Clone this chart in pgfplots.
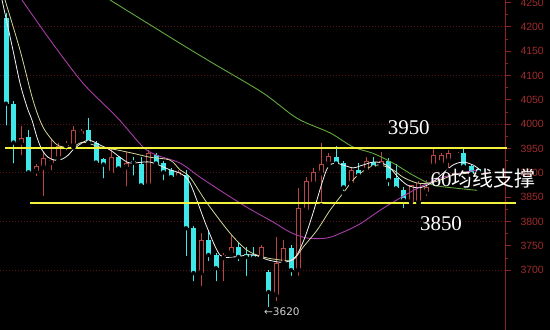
\documentclass[border=0pt]{standalone}
\usepackage{pgfplots}
\pgfplotsset{compat=1.18}
\usepackage{pgfplotstable}
\usepackage{fontspec}
\setmainfont{Liberation Serif}
\newfontfamily\cjk{Noto Sans CJK SC}
\newfontfamily\dejavu{DejaVu Sans}
\newfontfamily\lsans{Liberation Sans}
\definecolor{cyanc}{HTML}{3FE8E8}
\definecolor{redc}{HTML}{B84444}
\definecolor{maw}{HTML}{F2F2F2}
\definecolor{mak}{HTML}{D6D69A}
\definecolor{mam}{HTML}{A83CA8}
\definecolor{mag}{HTML}{62A83E}
\definecolor{yel}{HTML}{F2F23C}
\definecolor{axr}{HTML}{8C2323}
\definecolor{gridc}{HTML}{5A1616}
\definecolor{tickt}{HTML}{A02C2C}

\pgfplotstableread{
x o h l c
0 4217 4228 3993 4042
1 4042 4048 3915 3962
3 3973 3987 3895 3901
11 3987 4013 3960 3962
12 3962 3966 3919 3921
13 3928 3930 3884 3917
15 3932 3935 3901 3909
17 3925 3932 3890 3921
18 3919 3932 3870 3874
20 3936 3940 3913 3919
21 3921 3925 3880 3901
22 3905 3910 3884 3891
24 3895 3905 3725 3786
25 3786 3790 3673 3694
27 3761 3782 3714 3731
28 3731 3735 3673 3704
31 3747 3755 3714 3727
32 3733 3747 3684 3727
33 3731 3747 3725 3725
35 3696 3700 3620 3655
38 3745 3751 3684 3700
44 3932 3956 3915 3919
45 3921 3925 3858 3870
47 3905 3921 3888 3895
49 3923 3932 3905 3911
51 3925 3930 3868 3885
52 3889 3919 3864 3868
53 3864 3870 3823 3844
61 3940 3950 3909 3913
62 3913 3915 3895 3897
63 3908 3910 3897 3901
}\down

\pgfplotstableread{
x o h l c
2 3962 3997 3932 3971
4 3903 3919 3889 3913
5 3911 3942 3848 3930
6 3920 3970 3901 3926
7 3930 3962 3925 3956
8 3955 3966 3942 3957
9 3956 3997 3952 3987
10 3980 3990 3978 3985
14 3899 3952 3895 3932
16 3911 3942 3868 3921
19 3874 3946 3870 3940
23 3891 3905 3886 3901
26 3694 3776 3663 3761
29 3725 3735 3673 3731
30 3735 3772 3731 3747
34 3725 3751 3718 3747
36 3649 3768 3632 3714
37 3714 3761 3710 3745
39 3700 3868 3684 3827
40 3823 3892 3817 3884
41 3878 3909 3872 3901
42 3899 3962 3833 3919
43 3919 3940 3915 3934
46 3878 3909 3872 3905
48 3905 3932 3901 3925
50 3915 3942 3911 3925
54 3840 3874 3840 3874
55 3839 3883 3836 3880
56 3860 3885 3848 3870
57 3915 3952 3911 3936
58 3921 3940 3915 3936
59 3925 3946 3905 3940
60 3940 3945 3938 3942
}\up

\pgfplotsset{candle/.style 2 args={only marks, mark=none, forget plot,
  error bars/.cd, y dir=plus, y explicit, error mark=none,
  error bar style={color=#1, line width=#2}}}

\begin{document}
\begin{tikzpicture}
\useasboundingbox (0,0) rectangle (550bp,330bp);
\fill[black] (0,0) rectangle (550bp,330bp);
\begin{axis}[
  at={(0,0)}, anchor=south west, scale only axis,
  width=505bp, height=330bp,
  xmin=-0.8, xmax=66.53, ymin=3577, ymax=4255,
  axis x line=none, axis y line*=right,
  clip=false,
  ytick={3700,3750,3800,3850,3900,3950,4000,4050,4100,4150,4200,4250},
  minor y tick num=1,
  tick align=outside, major tick length=6bp, minor tick length=3bp,
  axis line style={color=axr, line width=0.8bp},
  ytick style={color=axr, line width=0.6bp},
  yticklabel style={font=\lsans\fontsize{10.5}{11}\selectfont, text=tickt, xshift=6bp},
  /pgf/number format/assume math mode=true,
  /pgf/number format/1000 sep={},
  extra y ticks={3700,3800,3900,4000,4100,4200},
  extra y tick labels={},
  extra y tick style={grid=major, major tick length=0pt,
     major grid style={color=gridc, dash pattern=on 1bp off 2bp, line width=0.8bp}},
]
% wicks and bodies
\addplot[candle={cyanc}{0.8bp}] table[x=x, y=l, y error plus expr={\thisrow{h}-\thisrow{l}}] {\down};
\addplot[candle={cyanc}{5bp}] table[x=x, y=c, y error plus expr={max(\thisrow{o}-\thisrow{c},1.5)}] {\down};
\addplot[candle={redc}{0.8bp}] table[x=x, y=l, y error plus expr={\thisrow{h}-\thisrow{l}}] {\up};
\addplot[candle={redc}{5bp}] table[x=x, y=o, y error plus expr={max(\thisrow{c}-\thisrow{o},1.5)}] {\up};
\addplot[candle={black}{3bp}] table[x=x, y expr={\thisrow{o}+2}, y error plus expr={max(\thisrow{c}-\thisrow{o}-4,0)}] {\up};

% MA60 green
\addplot[mag, line width=0.9bp, smooth, mark=none] coordinates {
(13.87,4255) (23.2,4166) (27.6,4125) (34.27,4064) (38.8,4012) (43.2,3982)
(46.27,3953) (48.93,3940) (51.6,3920) (54.27,3895) (56.93,3875) (59.6,3869) (62.8,3864)};
% MA magenta
\addplot[mam, line width=0.9bp, smooth, mark=none] coordinates {
(2.13,4255) (5.87,4173) (10.27,4084) (14.8,4014) (18.27,3953) (20.13,3936)
(23.2,3920) (25.87,3891) (28.53,3864) (32.13,3829) (35.6,3799) (37.87,3778)
(40.13,3766) (42.8,3766) (44.93,3778) (47.2,3795) (49.87,3823) (52.53,3848)
(55.2,3871) (57.87,3889) (60.53,3899) (62.93,3906)};
% MA10 khaki
\addplot[mak, line width=0.8bp, smooth, mark=none] coordinates {
(-0.13,4255) (1.87,4152) (3.6,4049) (4.93,3994) (6.53,3961) (7.6,3953)
(8.93,3953) (10.27,3963) (12.53,3953) (14.8,3947) (16.93,3940) (19.2,3932)
(21.87,3926) (23.2,3906) (24.53,3891) (26.8,3838) (29.87,3776) (32.13,3741)
(34.27,3727) (36.53,3721) (38.27,3721) (39.6,3747) (41.47,3782) (43.2,3823)
(44.93,3858) (46.5,3889) (48.27,3910) (49.87,3916) (51.6,3906) (52.93,3891)
(54.8,3879) (56.53,3879) (57.87,3885) (59.6,3895) (61.47,3899) (62.8,3899)};
% MA5 white
\addplot[maw, line width=0.8bp, smooth, mark=none] coordinates {
(-0.53,4255) (0.93,4152) (1.87,4084) (2.8,4035) (3.47,4008) (4.13,3973)
(4.8,3947) (5.6,3932) (6.53,3926) (7.47,3928) (8.27,3936) (9.2,3951)
(10.93,3967) (12.53,3957) (13.87,3947) (15.2,3932) (16.53,3920) (19.2,3922)
(21.87,3906) (23.2,3899) (24.53,3879) (26.8,3788) (28.53,3731) (30.27,3727)
(32.13,3731) (33.2,3731) (34.93,3721) (36.8,3716) (38.13,3721) (38.93,3735)
(39.87,3768) (40.93,3817) (42.13,3879) (42.93,3912) (43.87,3920) (44.93,3916)
(46.27,3910) (47.2,3914) (48.93,3922) (50.13,3920) (51.2,3910) (52.27,3891)
(53.47,3875) (54.8,3869) (55.6,3871) (56.93,3881) (58.27,3899) (59.6,3916)
(60.93,3922) (62.27,3916) (63.2,3906)};

% support / resistance lines
\addplot[yel, line width=2bp, mark=none] coordinates {(-0.13,3950) (66.8,3950)};
\addplot[yel, line width=2bp, mark=none] coordinates {(3.2,3838) (68.0,3838)};

% annotations
\node[text=white, font=\fontsize{21}{21}\selectfont] at (axis cs:53.7,3992) {3950};
\node[text=white, font=\fontsize{21}{21}\selectfont] at (axis cs:58.0,3795) {3850};
\node[text=white, font=\fontsize{21}{21}\selectfont] at (axis cs:63.6,3889) {60{\cjk 均线支撑}};
\node[text=white!82!black, anchor=west, inner sep=0pt, font=\dejavu\fontsize{10.5}{11}\selectfont] at (axis cs:34.4,3614) {←3620};
\end{axis}
\end{tikzpicture}
\end{document}
